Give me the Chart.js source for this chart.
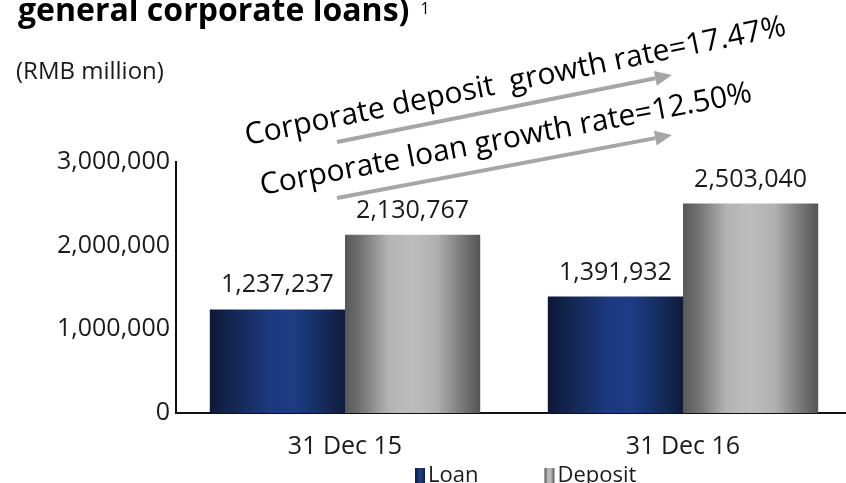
<!DOCTYPE html>
<html><head><meta charset="utf-8">
<script src="https://cdn.jsdelivr.net/npm/chart.js@4.4.1/dist/chart.umd.min.js"></script>
<style>
html,body{margin:0;padding:0;background:#fff;overflow:hidden;width:846px;height:483px}
canvas{display:block}
</style></head>
<body>
<canvas id="c" width="860" height="483" style="width:860px;height:483px"></canvas>
<script>
// ---- data ----
const categories = ['31 Dec 15', '31 Dec 16'];
const seriesNames = ['Loan', 'Deposit'];
const loanValues = [1237237, 1391932];
const depositValues = [2130767, 2503040];
const yTickValues = [0, 1000000, 2000000, 3000000];
const titleText = 'general corporate loans)';
const titleNote = '1';
const unitLabel = '(RMB million)';
const annotationTexts = ['Corporate deposit  growth rate=17.47%', 'Corporate loan growth rate=12.50%'];

// ---- styles ----
const FONT = "'Open Sans', 'Noto Sans', sans-serif";
const TEXT = '#1a1a1a';
const loanStops = [[0, '#0e1836'], [0.18, '#142754'], [0.45, '#1c3a80'], [0.62, '#1d3c84'], [0.85, '#152a5a'], [1, '#0f1b3c']];
const depStops = [[0, '#575757'], [0.12, '#737373'], [0.32, '#b3b3b3'], [0.5, '#bdbdbd'], [0.68, '#b0b0b0'], [0.86, '#7a7a7a'], [1, '#555555']];

function grad(ctx, x0, x1, stops) {
  const g = ctx.createLinearGradient(x0, 0, x1, 0);
  stops.forEach(s => g.addColorStop(s[0], s[1]));
  return g;
}
const fmt = v => v.toLocaleString('en-US');

const gradientPlugin = {
  id: 'barGradients',
  beforeDatasetsDraw(chart) {
    const ctx = chart.ctx;
    chart.data.datasets.forEach((ds, i) => {
      const meta = chart.getDatasetMeta(i);
      const stops = i === 0 ? loanStops : depStops;
      meta.data.forEach(bar => {
        const l = bar.x - bar.width / 2;
        bar.options = Object.assign({}, bar.options, { backgroundColor: grad(ctx, l, l + bar.width, stops) });
      });
    });
  }
};

const labelsPlugin = {
  id: 'valueLabels',
  afterDatasetsDraw(chart) {
    const ctx = chart.ctx;
    ctx.save();
    ctx.font = `25px ${FONT}`;
    ctx.fillStyle = TEXT;
    ctx.textAlign = 'center';
    ctx.textBaseline = 'alphabetic';
    chart.data.datasets.forEach((ds, i) => {
      chart.getDatasetMeta(i).data.forEach((bar, j) => {
        ctx.fillText(fmt(ds.data[j]), bar.x, bar.y - 17);
      });
    });
    ctx.restore();
  }
};

function arrow(ctx, x0, y0, x1, y1) {
  const a = Math.atan2(y1 - y0, x1 - x0);
  const hl = 17, hw = 7.5;
  const bx = x1 - hl * Math.cos(a), by = y1 - hl * Math.sin(a);
  ctx.beginPath();
  ctx.moveTo(x0, y0);
  ctx.lineTo(bx, by);
  ctx.stroke();
  ctx.beginPath();
  ctx.moveTo(x1, y1);
  ctx.lineTo(bx + hw * Math.sin(a), by - hw * Math.cos(a));
  ctx.lineTo(bx - hw * Math.sin(a), by + hw * Math.cos(a));
  ctx.closePath();
  ctx.fill();
}

const decorPlugin = {
  id: 'decor',
  afterDraw(chart) {
    const ctx = chart.ctx;
    ctx.save();
    // title (cut at top)
    ctx.fillStyle = '#000';
    ctx.textAlign = 'left';
    ctx.textBaseline = 'alphabetic';
    ctx.font = `bold 32px ${FONT}`;
    ctx.fillText(titleText, 18, 21);
    const tw = ctx.measureText(titleText).width;
    ctx.font = `16px ${FONT}`;
    ctx.fillText(titleNote, 18 + tw + 11, 14);
    // unit
    ctx.fillStyle = TEXT;
    ctx.font = `24px ${FONT}`;
    ctx.fillText(unitLabel, 16, 79);
    // arrows
    ctx.strokeStyle = '#a6a6a6';
    ctx.fillStyle = '#a6a6a6';
    ctx.lineWidth = 4;
    arrow(ctx, 337, 142, 672, 75);
    arrow(ctx, 337, 198, 672, 135);
    // rotated annotations
    ctx.fillStyle = '#000';
    ctx.font = `30px ${FONT}`;
    [[annotationTexts[0], 247, 145, -11.5], [annotationTexts[1], 262, 195, -10.8]].forEach(([t, x, y, deg]) => {
      ctx.save();
      ctx.translate(x, y);
      ctx.rotate(deg * Math.PI / 180);
      ctx.fillText(t, 0, 0);
      ctx.restore();
    });
    // legend
    ctx.font = `22px ${FONT}`;
    ctx.fillStyle = TEXT;
    let lx = 415;
    chart.data.datasets.forEach((ds, i) => {
      const stops = i === 0 ? loanStops : depStops;
      ctx.fillStyle = grad(ctx, lx, lx + 10, stops);
      ctx.fillRect(lx, 468, 10, 15);
      ctx.fillStyle = TEXT;
      ctx.fillText(ds.label, lx + 13, 482);
      lx += 13 + ctx.measureText(ds.label).width + 66;
    });
    ctx.restore();
  }
};

Chart.defaults.font.family = FONT;
Chart.defaults.color = TEXT;

new Chart(document.getElementById('c'), {
  type: 'bar',
  data: {
    labels: categories,
    datasets: [
      { label: seriesNames[0], data: loanValues, backgroundColor: '#1c3a80', borderWidth: 0, categoryPercentage: 0.8, barPercentage: 1.0 },
      { label: seriesNames[1], data: depositValues, backgroundColor: '#b3b3b3', borderWidth: 0, categoryPercentage: 0.8, barPercentage: 1.0 }
    ]
  },
  options: {
    responsive: false,
    animation: false,
    devicePixelRatio: 1,
    layout: { padding: { top: 162, left: 0, right: 8, bottom: 0 } },
    plugins: { legend: { display: false }, tooltip: { enabled: false }, title: { display: false } },
    scales: {
      x: {
        grid: { display: false, drawTicks: false },
        border: { display: true, color: '#111', width: 2 },
        ticks: { font: { size: 25 }, color: TEXT, padding: 19 },
        afterFit(s) { s.height = 70; }
      },
      y: {
        min: 0, max: 3000000,
        afterBuildTicks(s) { s.ticks = yTickValues.map(v => ({ value: v })); },
        grid: { display: false, drawTicks: false },
        border: { display: true, color: '#111', width: 2 },
        ticks: { font: { size: 25 }, color: TEXT, padding: 6, callback: v => fmt(v) },
        afterFit(s) { s.width = 176; }
      }
    }
  },
  plugins: [gradientPlugin, labelsPlugin, decorPlugin]
});
</script>
</body></html>
